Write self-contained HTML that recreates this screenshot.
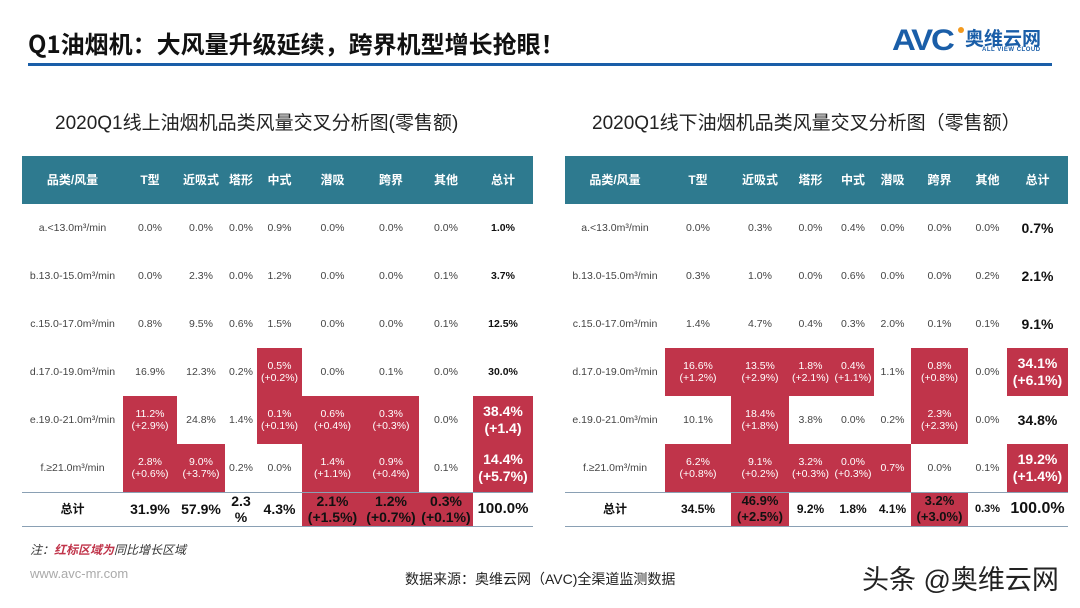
<!DOCTYPE html>
<html><head><meta charset="utf-8">
<style>
*{margin:0;padding:0;box-sizing:border-box}
body{width:1080px;height:608px;background:#fff;position:relative;overflow:hidden;font-family:"Liberation Sans","Noto Sans CJK SC",sans-serif;color:#333}
.abs{position:absolute}
table{position:absolute;border-collapse:collapse;table-layout:fixed}
td{text-align:center;vertical-align:middle;font-size:10.5px;color:#444;height:48px;padding:0;line-height:12px}
tr.h td{background:#2e7a8f;color:#fff;font-weight:bold;font-size:12px}
tr.t td{height:34px;font-weight:bold;font-size:14px;color:#111;line-height:16px;border-top:1.5px solid #8aa0b4;border-bottom:1.5px solid #8aa0b4}
td.r{background:#c0344a;color:#fff}
td.b{font-weight:bold;color:#111}
td.B{font-weight:bold;color:#111;font-size:14px;line-height:17px}
td.lbl{font-size:10.5px}
</style></head><body>
<div class="abs" style="left:28px;top:25px;font-size:24px;font-weight:bold;color:#111;font-family:'Noto Sans CJK SC',sans-serif">Q1油烟机：大风量升级延续，跨界机型增长抢眼！</div>
<div class="abs" style="left:892px;top:24px;font-size:30px;font-weight:900;color:#1a5ea8;letter-spacing:-2px;transform:scaleX(1.1);transform-origin:left">AVC</div>
<div class="abs" style="left:958px;top:27px;width:6px;height:6px;border-radius:3px;background:#f39a1e"></div>
<div class="abs" style="left:965px;top:24px;font-size:19px;font-weight:bold;color:#1a5ea8">奥维云网</div>
<div class="abs" style="left:982px;top:47px;font-size:6px;font-weight:bold;color:#1a5ea8;letter-spacing:.5px">ALL VIEW CLOUD</div>
<div class="abs" style="left:28px;top:63px;width:1024px;height:3px;background:#1a5ea8"></div>
<div class="abs" style="left:55px;top:108px;font-size:19px;color:#222">2020Q1线上油烟机品类风量交叉分析图(零售额)</div>
<div class="abs" style="left:592px;top:108px;font-size:19px;color:#222">2020Q1线下油烟机品类风量交叉分析图（零售额）</div>

<table style="left:22px;top:156px;width:511px">
<colgroup><col style="width:101px"><col style="width:54px"><col style="width:48px"><col style="width:32px"><col style="width:45px"><col style="width:61px"><col style="width:56px"><col style="width:54px"><col style="width:60px"></colgroup>
<tr class="h"><td>品类/风量</td><td>T型</td><td>近吸式</td><td>塔形</td><td>中式</td><td>潜吸</td><td>跨界</td><td>其他</td><td>总计</td></tr>
<tr><td class="lbl">a.&lt;13.0m³/min</td><td>0.0%</td><td>0.0%</td><td>0.0%</td><td>0.9%</td><td>0.0%</td><td>0.0%</td><td>0.0%</td><td class="b">1.0%</td></tr>
<tr><td class="lbl">b.13.0-15.0m³/min</td><td>0.0%</td><td>2.3%</td><td>0.0%</td><td>1.2%</td><td>0.0%</td><td>0.0%</td><td>0.1%</td><td class="b">3.7%</td></tr>
<tr><td class="lbl">c.15.0-17.0m³/min</td><td>0.8%</td><td>9.5%</td><td>0.6%</td><td>1.5%</td><td>0.0%</td><td>0.0%</td><td>0.1%</td><td class="b">12.5%</td></tr>
<tr><td class="lbl">d.17.0-19.0m³/min</td><td>16.9%</td><td>12.3%</td><td>0.2%</td><td class="r">0.5%<br>(+0.2%)</td><td>0.0%</td><td>0.1%</td><td>0.0%</td><td class="b">30.0%</td></tr>
<tr><td class="lbl">e.19.0-21.0m³/min</td><td class="r">11.2%<br>(+2.9%)</td><td>24.8%</td><td>1.4%</td><td class="r">0.1%<br>(+0.1%)</td><td class="r">0.6%<br>(+0.4%)</td><td class="r">0.3%<br>(+0.3%)</td><td>0.0%</td><td class="r B" style="color:#fff">38.4%<br>(+1.4)</td></tr>
<tr><td class="lbl">f.≥21.0m³/min</td><td class="r">2.8%<br>(+0.6%)</td><td class="r">9.0%<br>(+3.7%)</td><td>0.2%</td><td>0.0%</td><td class="r">1.4%<br>(+1.1%)</td><td class="r">0.9%<br>(+0.4%)</td><td>0.1%</td><td class="r B" style="color:#fff">14.4%<br>(+5.7%)</td></tr>
<tr class="t"><td style="font-size:12px">总计</td><td>31.9%</td><td>57.9%</td><td>2.3<br>%</td><td>4.3%</td><td class="r">2.1%<br>(+1.5%)</td><td class="r">1.2%<br>(+0.7%)</td><td class="r">0.3%<br>(+0.1%)</td><td style="font-size:15px">100.0%</td></tr>
</table>

<table style="left:565px;top:156px;width:503px">
<colgroup><col style="width:100px"><col style="width:66px"><col style="width:58px"><col style="width:43px"><col style="width:42px"><col style="width:37px"><col style="width:57px"><col style="width:39px"><col style="width:61px"></colgroup>
<tr class="h"><td>品类/风量</td><td>T型</td><td>近吸式</td><td>塔形</td><td>中式</td><td>潜吸</td><td>跨界</td><td>其他</td><td>总计</td></tr>
<tr><td class="lbl">a.&lt;13.0m³/min</td><td>0.0%</td><td>0.3%</td><td>0.0%</td><td>0.4%</td><td>0.0%</td><td>0.0%</td><td>0.0%</td><td class="B">0.7%</td></tr>
<tr><td class="lbl">b.13.0-15.0m³/min</td><td>0.3%</td><td>1.0%</td><td>0.0%</td><td>0.6%</td><td>0.0%</td><td>0.0%</td><td>0.2%</td><td class="B">2.1%</td></tr>
<tr><td class="lbl">c.15.0-17.0m³/min</td><td>1.4%</td><td>4.7%</td><td>0.4%</td><td>0.3%</td><td>2.0%</td><td>0.1%</td><td>0.1%</td><td class="B">9.1%</td></tr>
<tr><td class="lbl">d.17.0-19.0m³/min</td><td class="r">16.6%<br>(+1.2%)</td><td class="r">13.5%<br>(+2.9%)</td><td class="r">1.8%<br>(+2.1%)</td><td class="r">0.4%<br>(+1.1%)</td><td>1.1%</td><td class="r">0.8%<br>(+0.8%)</td><td>0.0%</td><td class="r B" style="color:#fff">34.1%<br>(+6.1%)</td></tr>
<tr><td class="lbl">e.19.0-21.0m³/min</td><td>10.1%</td><td class="r">18.4%<br>(+1.8%)</td><td>3.8%</td><td>0.0%</td><td>0.2%</td><td class="r">2.3%<br>(+2.3%)</td><td>0.0%</td><td class="B">34.8%</td></tr>
<tr><td class="lbl">f.≥21.0m³/min</td><td class="r">6.2%<br>(+0.8%)</td><td class="r">9.1%<br>(+0.2%)</td><td class="r">3.2%<br>(+0.3%)</td><td class="r">0.0%<br>(+0.3%)</td><td class="r">0.7%</td><td>0.0%</td><td>0.1%</td><td class="r B" style="color:#fff">19.2%<br>(+1.4%)</td></tr>
<tr class="t"><td style="font-size:12px">总计</td><td style="font-size:12px">34.5%</td><td class="r" style="font-size:13px">46.9%<br>(+2.5%)</td><td style="font-size:12px">9.2%</td><td style="font-size:12px">1.8%</td><td style="font-size:12px">4.1%</td><td class="r" style="font-size:13px">3.2%<br>(+3.0%)</td><td style="font-size:11px">0.3%</td><td style="font-size:16px">100.0%</td></tr>
</table>

<div class="abs" style="left:30px;top:541px;font-size:12px;font-style:italic;color:#333">注：<span style="color:#c0344a;font-weight:bold">红标区域为</span>同比增长区域</div>
<div class="abs" style="left:30px;top:566px;font-size:13px;color:#aaa">www.avc-mr.com</div>
<div class="abs" style="left:405px;top:569px;font-size:14px;color:#222">数据来源：奥维云网（AVC)全渠道监测数据</div>
<div class="abs" style="left:862px;top:558px;font-size:27px;color:#222">头条 @奥维云网</div>
</body></html>
